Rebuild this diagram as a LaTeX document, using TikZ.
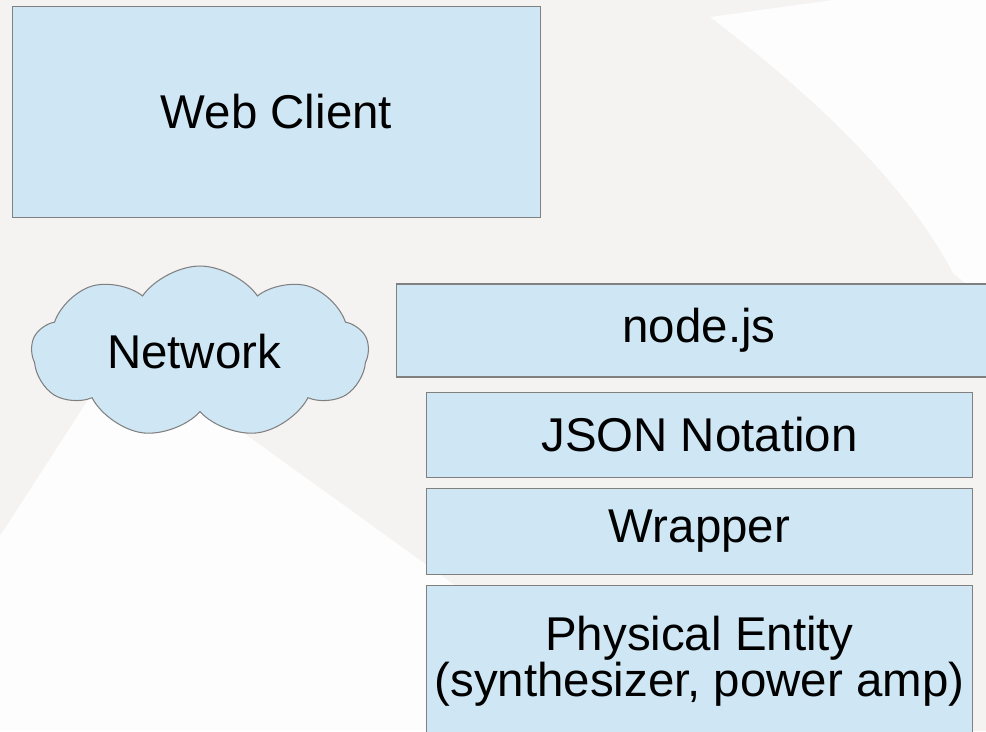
\documentclass[tikz,border=0pt]{standalone}
\usepackage{fontspec}
\setmainfont{Liberation Sans}
\usetikzlibrary{positioning, shapes.symbols}

\definecolor{boxfill}{RGB}{207,231,244}
\definecolor{boxline}{RGB}{128,128,128}
\definecolor{wmgray}{RGB}{245,242,242}
\definecolor{wmwhite}{RGB}{253,253,253}

\begin{document}
\begin{tikzpicture}[
  x=0.02cm, y=-0.02cm,
  every node/.style={font=\fontsize{27}{26.2}\selectfont},
  layer/.style={rectangle, draw=boxline, line width=0.6pt, fill=boxfill, inner sep=0pt, align=center},
  net/.style={cloud, draw=boxline, line width=0.6pt, fill=boxfill, cloud puffs=9, cloud puff arc=110, aspect=2, inner sep=0pt}
]
  % faint backdrop
  \fill[wmgray] (0,0) rectangle (986,731);
  \fill[wmwhite] (833,0) -- (710,17) .. controls (820,100) and (910,190) .. (953,273) -- (986,300) -- (986,0) -- cycle;
  \fill[wmwhite] (123,346) -- (0,536) -- (0,731) -- (657,731) -- cycle;
  \useasboundingbox (0,0) rectangle (986,731);

  \node[layer, minimum width=10.58cm, minimum height=4.22cm] (client) at (276.5,112) {Web Client};
  \node[net, minimum width=6.74cm, minimum height=3.44cm] (network) at (200,352) {Network\hspace*{0.24cm}};

  % the server stack
  \node[layer, minimum width=12.12cm, minimum height=1.86cm] (nodejs) at (699,330.5) {node.js};
  \node[layer, minimum width=10.94cm, minimum height=1.7cm, below=0.28cm of nodejs.south west, anchor=north west, xshift=0.6cm] (json) {JSON Notation};
  \node[layer, minimum width=10.94cm, minimum height=1.72cm, below=0.2cm of json] (wrapper) {Wrapper};
  \node[layer, minimum width=10.94cm, minimum height=3.06cm, below=0.2cm of wrapper] (entity) {Physical Entity\\(synthesizer, power amp)};
\end{tikzpicture}
\end{document}
